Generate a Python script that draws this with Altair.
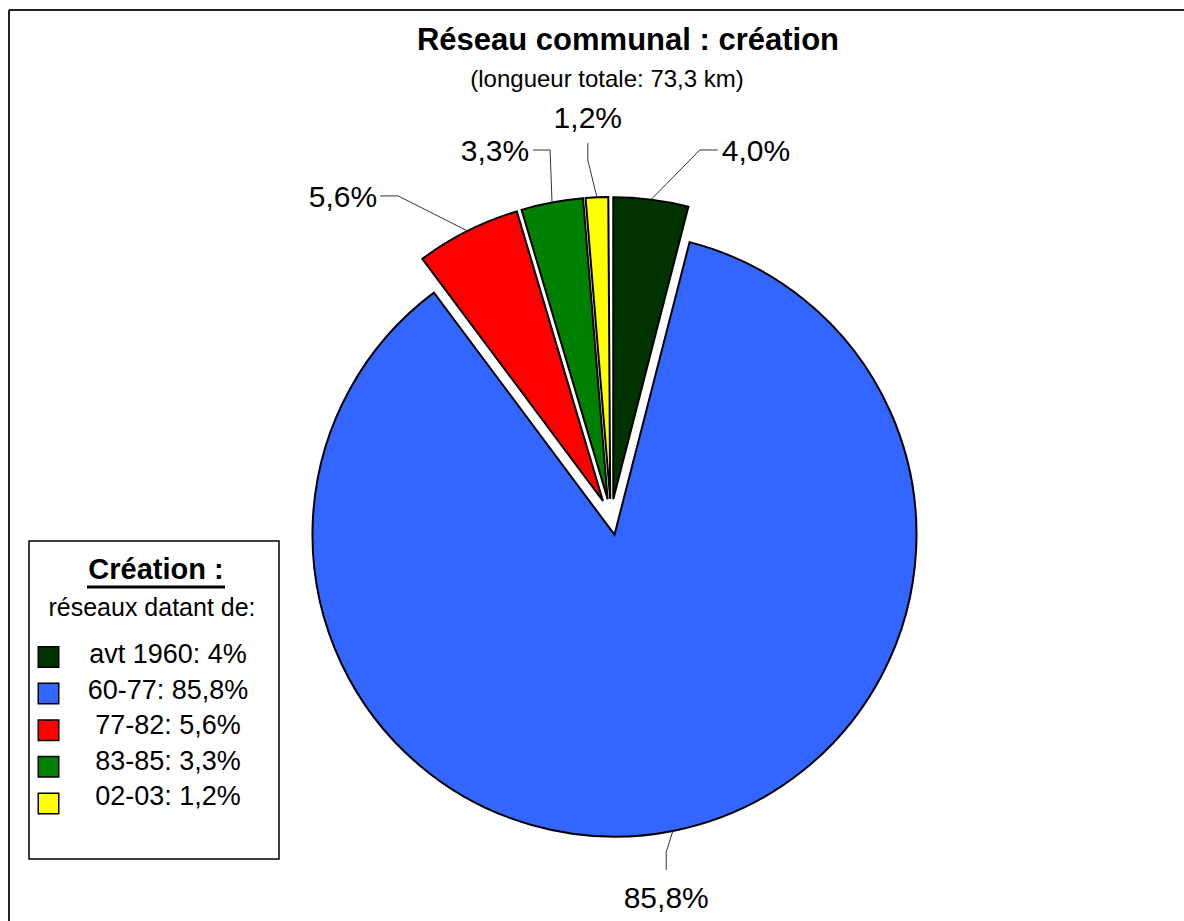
import numpy as np
import pandas as pd
import altair as alt

# ---------------- data ----------------
cats = ["avt 1960", "60-77", "77-82", "83-85", "02-03"]
values = [4.0, 85.8, 5.6, 3.3, 1.2]
colors = ["#003300", "#3366FF", "#FF0000", "#008000", "#FFFF00"]

title_text = "Réseau communal : création"
subtitle_text = "(longueur totale: 73,3 km)"
legend_title = "Création :"
legend_subtitle = "réseaux datant de:"

# ---------------- layout / style ----------------
W, H = 1184, 921
CX, CY = 611, 517          # pie centre (pixels)
R = 302                    # pie radius
EXPLODE = 18               # explode distance of every slice
FONT = "Liberation Sans"

# leader / label layout per slice (same order as cats)
label_shift = [6.4, 1.8, -6.9, 1.2, -1.2]          # degrees from slice bisector
label_r = [377.6, 339.5, 385.2, 372.0, 357.6]      # elbow radius
tail = [(18, 0), (0, 18), (-18, 0), (-17, 0), (0, -17)]
text_align = ["left", "center", "right", "right", "center"]
text_off = [(4, 11), (0, 38), (-3, 11), (-4, 11), (0, -15)]

# ---------------- derived tables ----------------
vals = np.array(values)
starts = np.concatenate([[0], np.cumsum(vals)[:-1]])
ends = starts + vals
mids = np.deg2rad(3.6 * (starts + vals / 2))

arc_df = pd.DataFrame({
    "cat": cats,
    "t0": starts,
    "t1": ends,
    "cx": CX + EXPLODE * np.sin(mids),
    "cy": CY - EXPLODE * np.cos(mids),
})

def fr(v, fmt):
    return format(v, fmt).replace(".", ",")

line_rows, label_rows = [], []
for i, c in enumerate(cats):
    sx = arc_df.cx[i] + R * np.sin(mids[i])
    sy = arc_df.cy[i] - R * np.cos(mids[i])
    a = mids[i] + np.deg2rad(label_shift[i])
    ex = CX + label_r[i] * np.sin(a)
    ey = CY - label_r[i] * np.cos(a)
    tx, ty = ex + tail[i][0], ey + tail[i][1]
    for k, (px, py) in enumerate([(sx, sy), (ex, ey), (tx, ty)]):
        line_rows.append({"cat": c, "k": k, "px": px, "py": py})
    label_rows.append({
        "cat": c,
        "label": fr(values[i], ".1f") + "%",
        "lx": tx + text_off[i][0],
        "ly": ty + text_off[i][1],
        "align": text_align[i],
    })
line_df = pd.DataFrame(line_rows)
label_df = pd.DataFrame(label_rows)

legend_df = pd.DataFrame({
    "cat": cats,
    "label": [f"{c}: " + fr(v, "g") + "%" for c, v in zip(cats, values)],
    "i": list(range(len(cats))),
})

one = pd.DataFrame({"a": [0]})
color_scale = alt.Scale(domain=cats, range=colors)

# ---------------- layers ----------------
frame_h = alt.Chart(one).mark_rule(color="#222222", strokeWidth=2).encode(
    x=alt.value(9), x2=alt.value(W), y=alt.value(10))
frame_v = alt.Chart(one).mark_rule(color="#222222", strokeWidth=2).encode(
    x=alt.value(9), y=alt.value(10), y2=alt.value(H))

pie = alt.Chart(arc_df).mark_arc(radius=R, stroke="black", strokeWidth=2).encode(
    theta=alt.Theta("t0:Q", scale=alt.Scale(domain=[0, 100], range=[0, 2 * np.pi])),
    theta2="t1:Q",
    x=alt.X("cx:Q", scale=None, axis=None),
    y=alt.Y("cy:Q", scale=None, axis=None),
    color=alt.Color("cat:N", scale=color_scale, legend=None),
)

leaders = alt.Chart(line_df).mark_line(color="#333333", strokeWidth=1).encode(
    x=alt.X("px:Q", scale=None, axis=None),
    y=alt.Y("py:Q", scale=None, axis=None),
    detail="cat:N",
    order="k:Q",
)

label_layers = []
for al in ["left", "center", "right"]:
    label_layers.append(
        alt.Chart(label_df).transform_filter(alt.datum.align == al).mark_text(
            font=FONT, fontSize=30, align=al, baseline="alphabetic", color="black"
        ).encode(
            x=alt.X("lx:Q", scale=None, axis=None),
            y=alt.Y("ly:Q", scale=None, axis=None),
            text="label:N",
        )
    )

title = alt.Chart(one).mark_text(
    font=FONT, fontSize=31, fontWeight="bold", align="center", baseline="alphabetic",
    color="black").encode(x=alt.value(628), y=alt.value(50), text=alt.value(title_text))
subtitle = alt.Chart(one).mark_text(
    font=FONT, fontSize=24, align="center", baseline="alphabetic",
    color="black").encode(x=alt.value(607), y=alt.value(87), text=alt.value(subtitle_text))

# legend box
leg_box = alt.Chart(one).mark_rect(fill="white", stroke="black", strokeWidth=1.5).encode(
    x=alt.value(29), x2=alt.value(279), y=alt.value(541), y2=alt.value(859))
leg_title = alt.Chart(one).mark_text(
    font=FONT, fontSize=29, fontWeight="bold", align="center", baseline="alphabetic",
    color="black").encode(x=alt.value(156), y=alt.value(579), text=alt.value(legend_title))
leg_underline = alt.Chart(one).mark_rule(color="black", strokeWidth=3).encode(
    x=alt.value(87), x2=alt.value(225), y=alt.value(587))
leg_sub = alt.Chart(one).mark_text(
    font=FONT, fontSize=25, align="center", baseline="alphabetic",
    color="black").encode(x=alt.value(152), y=alt.value(616), text=alt.value(legend_subtitle))

leg_sq = alt.Chart(legend_df).transform_calculate(
    sy="657 + datum.i * 36.6").mark_square(
    size=420, stroke="black", strokeWidth=1.5, opacity=1, filled=True).encode(
    x=alt.value(48.5),
    y=alt.Y("sy:Q", scale=None, axis=None),
    color=alt.Color("cat:N", scale=color_scale, legend=None),
)
leg_txt = alt.Chart(legend_df).transform_calculate(
    ty="663 + datum.i * 35.6").mark_text(
    font=FONT, fontSize=27, align="center", baseline="alphabetic", color="black").encode(
    x=alt.value(168),
    y=alt.Y("ty:Q", scale=None, axis=None),
    text="label:N",
)

chart = alt.layer(
    frame_h, frame_v, pie, leaders, *label_layers, title, subtitle,
    leg_box, leg_title, leg_underline, leg_sub, leg_sq, leg_txt,
).properties(
    width=W, height=H, padding=0,
    autosize=alt.AutoSizeParams(type="none"),
    background="white",
).configure_view(stroke=None)

chart.save("out.html", embed_options={"renderer": "svg", "actions": False})
